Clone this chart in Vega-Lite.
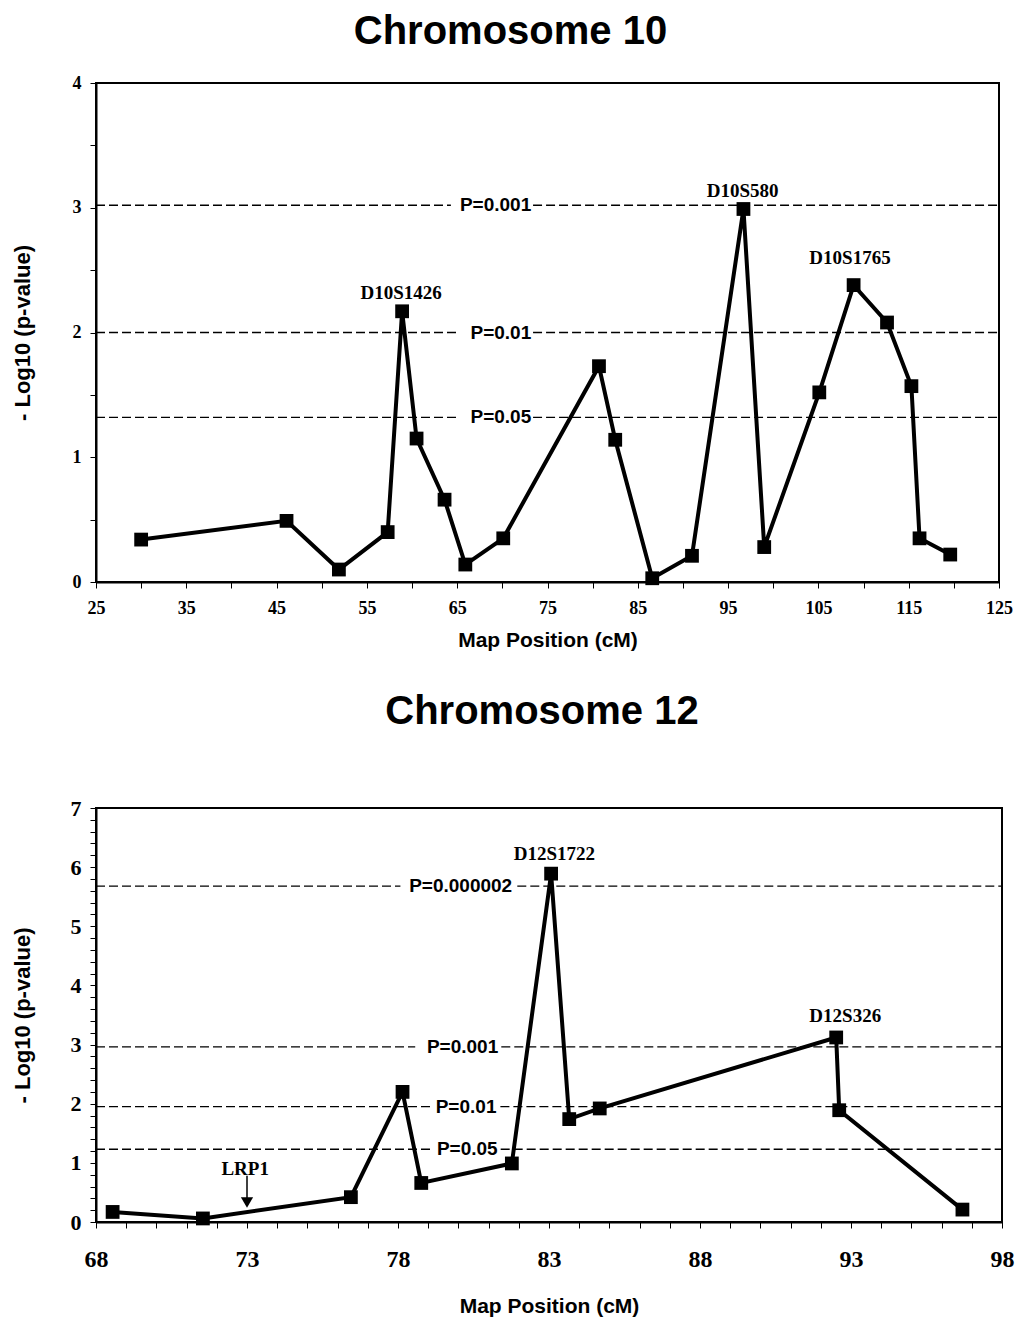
{
  "$schema": "https://vega.github.io/schema/vega-lite/v6.json",
  "padding": {"left": 10, "top": 11, "right": 0, "bottom": 0},
  "spacing": 40,
  "background": "white",
  "config": {
    "view": {"stroke": "black", "strokeWidth": 2},
    "axis": {
      "grid": false, "domainColor": "black", "domainWidth": 2,
      "tickColor": "black", "tickWidth": 1, "tickSize": 6,
      "labelColor": "black", "labelFont": "Liberation Serif", "labelFontWeight": "bold",
      "titleColor": "black", "titleFont": "Liberation Sans", "titleFontWeight": "bold",
      "labelFlush": false, "labelOverlap": false
    }
  },
  "datasets": {
    "chr10": [
      {"x": 30.0, "y": 0.34}, {"x": 46.1, "y": 0.49}, {"x": 51.9, "y": 0.10},
      {"x": 57.3, "y": 0.40}, {"x": 58.9, "y": 2.17}, {"x": 60.5, "y": 1.15},
      {"x": 63.6, "y": 0.66}, {"x": 65.9, "y": 0.14}, {"x": 70.1, "y": 0.35},
      {"x": 80.7, "y": 1.73}, {"x": 82.5, "y": 1.14}, {"x": 86.6, "y": 0.03},
      {"x": 91.0, "y": 0.21}, {"x": 96.7, "y": 2.99}, {"x": 99.0, "y": 0.28},
      {"x": 105.1, "y": 1.52}, {"x": 108.9, "y": 2.38}, {"x": 112.6, "y": 2.08},
      {"x": 115.3, "y": 1.57}, {"x": 116.2, "y": 0.35}, {"x": 119.6, "y": 0.22}
    ],
    "chr10_rules": [
      {"x": 25, "x2": 64.3, "y": 3.02}, {"x": 73.4, "x2": 125, "y": 3.02},
      {"x": 25, "x2": 65.1, "y": 2.0}, {"x": 73.4, "x2": 125, "y": 2.0},
      {"x": 25, "x2": 65.1, "y": 1.32}, {"x": 73.4, "x2": 125, "y": 1.32}
    ],
    "chr10_plabels": [
      {"label": "P=0.001", "x": 73.2, "y": 3.02},
      {"label": "P=0.01", "x": 73.2, "y": 2.0},
      {"label": "P=0.05", "x": 73.2, "y": 1.32}
    ],
    "chr10_markers": [
      {"label": "D10S1426", "x": 58.8, "y": 2.27},
      {"label": "D10S580", "x": 96.6, "y": 3.09},
      {"label": "D10S1765", "x": 108.5, "y": 2.55}
    ],
    "chr12": [
      {"x": 68.55, "y": 0.17}, {"x": 71.54, "y": 0.06}, {"x": 76.44, "y": 0.42},
      {"x": 78.15, "y": 2.20}, {"x": 78.77, "y": 0.66}, {"x": 81.77, "y": 0.99},
      {"x": 83.07, "y": 5.89}, {"x": 83.67, "y": 1.74}, {"x": 84.68, "y": 1.92},
      {"x": 92.51, "y": 3.12}, {"x": 92.61, "y": 1.89}, {"x": 96.69, "y": 0.21}
    ],
    "chr12_rules": [
      {"x": 68, "x2": 78.08, "y": 5.68}, {"x": 81.95, "x2": 98, "y": 5.68},
      {"x": 68, "x2": 78.57, "y": 2.96}, {"x": 81.42, "x2": 98, "y": 2.96},
      {"x": 68, "x2": 79.07, "y": 1.95}, {"x": 81.39, "x2": 98, "y": 1.95},
      {"x": 68, "x2": 79.07, "y": 1.23}, {"x": 81.4, "x2": 98, "y": 1.23}
    ],
    "chr12_plabels": [
      {"label": "P=0.000002", "x": 81.78, "y": 5.68},
      {"label": "P=0.001", "x": 81.32, "y": 2.96},
      {"label": "P=0.01", "x": 81.26, "y": 1.95},
      {"label": "P=0.05", "x": 81.3, "y": 1.23}
    ],
    "chr12_markers": [
      {"label": "D12S1722", "x": 83.18, "y": 6.12},
      {"label": "D12S326", "x": 92.81, "y": 3.39},
      {"label": "LRP1", "x": 72.94, "y": 0.80}
    ],
    "chr12_arrow": [
      {"x": 73.0, "y": 0.78, "y2": 0.38}
    ],
    "chr12_arrowhead": [
      {"x": 73.0, "y": 0.33}
    ]
  },
  "vconcat": [
    {
      "width": 903,
      "height": 499,
      "title": {"text": "Chromosome 10", "font": "Liberation Sans", "fontSize": 40, "fontWeight": "bold", "color": "black", "frame": "group", "anchor": "middle", "dx": -37, "offset": 22},
      "resolve": {"axis": {"x": "independent", "y": "independent"}},
      "layer": [
        {
          "data": {"name": "chr10_rules"},
          "mark": {"type": "rule", "color": "black", "strokeWidth": 1.3, "strokeDash": [9, 4]},
          "encoding": {
            "x": {"field": "x", "type": "quantitative",
              "scale": {"domain": [25, 125], "nice": false, "zero": false},
              "axis": {
                "orient": "bottom",
                "title": "Map Position (cM)", "titleFontSize": 21, "titlePadding": 12,
                "values": [25,35,45,55,65,75,85,95,105,115,125],
                "labelFontSize": 18, "labelPadding": 11, "labelOverlap": false, "labelFlush": false
              }},
            "x2": {"field": "x2"},
            "y": {"field": "y", "type": "quantitative",
              "scale": {"domain": [0, 4], "nice": false},
              "axis": {
                "orient": "left",
                "title": "- Log10 (p-value)", "titleFontSize": 22, "titlePadding": 38,
                "values": [0,1,2,3,4], "format": "d",
                "labelFontSize": 18, "labelPadding": 9, "labelOverlap": false, "labelFlush": false
              }}
          }
        },
        {
          "data": {"name": "chr10"},
          "mark": {"type": "line", "color": "black", "strokeWidth": 4},
          "encoding": {
            "x": {"field": "x", "type": "quantitative",
              "axis": {"orient": "bottom", "offset": 0, "title": null, "labels": false, "domain": false, "values": [30,40,50,60,70,80,90,100,110,120]}},
            "y": {"field": "y", "type": "quantitative",
              "axis": {"orient": "left", "offset": 0, "title": null, "labels": false, "domain": false, "values": [0.5,1.5,2.5,3.5]}}
          }
        },
        {
          "data": {"name": "chr10"},
          "mark": {"type": "point", "shape": "square", "filled": true, "color": "black", "size": 190, "opacity": 1},
          "encoding": {
            "x": {"field": "x", "type": "quantitative", "axis": null},
            "y": {"field": "y", "type": "quantitative", "axis": null}
          }
        },
        {
          "data": {"name": "chr10_plabels"},
          "mark": {"type": "text", "align": "right", "baseline": "middle", "font": "Liberation Sans", "fontWeight": "bold", "fontSize": 19, "color": "black"},
          "encoding": {
            "x": {"field": "x", "type": "quantitative", "axis": null},
            "y": {"field": "y", "type": "quantitative", "axis": null},
            "text": {"field": "label"}
          }
        },
        {
          "data": {"name": "chr10_markers"},
          "mark": {"type": "text", "align": "center", "baseline": "alphabetic", "font": "Liberation Serif", "fontWeight": "bold", "fontSize": 19, "color": "black"},
          "encoding": {
            "x": {"field": "x", "type": "quantitative", "axis": null},
            "y": {"field": "y", "type": "quantitative", "axis": null},
            "text": {"field": "label"}
          }
        }
      ]
    },
    {
      "width": 906,
      "height": 414,
      "title": {"text": "Chromosome 12", "font": "Liberation Sans", "fontSize": 40, "fontWeight": "bold", "color": "black", "frame": "group", "anchor": "middle", "dx": -7, "offset": 65},
      "resolve": {"axis": {"x": "independent", "y": "independent"}},
      "layer": [
        {
          "data": {"name": "chr12_rules"},
          "mark": {"type": "rule", "color": "black", "strokeWidth": 1.3, "strokeDash": [9, 4]},
          "encoding": {
            "x": {"field": "x", "type": "quantitative",
              "scale": {"domain": [68, 98], "nice": false, "zero": false},
              "axis": {
                "orient": "bottom",
                "title": "Map Position (cM)", "titleFontSize": 21, "titlePadding": 24,
                "values": [68,73,78,83,88,93,98],
                "labelFontSize": 24, "labelPadding": 19, "labelOverlap": false, "labelFlush": false
              }},
            "x2": {"field": "x2"},
            "y": {"field": "y", "type": "quantitative",
              "scale": {"domain": [0, 7], "nice": false},
              "axis": {
                "orient": "left",
                "title": "- Log10 (p-value)", "titleFontSize": 22, "titlePadding": 36,
                "values": [0,1,2,3,4,5,6,7], "format": "d",
                "labelFontSize": 22, "labelPadding": 9, "labelOverlap": false, "labelFlush": false
              }}
          }
        },
        {
          "data": {"name": "chr12"},
          "mark": {"type": "line", "color": "black", "strokeWidth": 4},
          "encoding": {
            "x": {"field": "x", "type": "quantitative",
              "axis": {"orient": "bottom", "offset": 0, "title": null, "labels": false, "domain": false,
                "values": [69,70,71,72,74,75,76,77,79,80,81,82,84,85,86,87,89,90,91,92,94,95,96,97]}},
            "y": {"field": "y", "type": "quantitative",
              "axis": {"orient": "left", "offset": 0, "title": null, "labels": false, "domain": false,
                "values": [0.2,0.4,0.6,0.8,1.2,1.4,1.6,1.8,2.2,2.4,2.6,2.8,3.2,3.4,3.6,3.8,4.2,4.4,4.6,4.8,5.2,5.4,5.6,5.8,6.2,6.4,6.6,6.8]}}
          }
        },
        {
          "data": {"name": "chr12"},
          "mark": {"type": "point", "shape": "square", "filled": true, "color": "black", "size": 190, "opacity": 1},
          "encoding": {
            "x": {"field": "x", "type": "quantitative", "axis": null},
            "y": {"field": "y", "type": "quantitative", "axis": null}
          }
        },
        {
          "data": {"name": "chr12_plabels"},
          "mark": {"type": "text", "align": "right", "baseline": "middle", "font": "Liberation Sans", "fontWeight": "bold", "fontSize": 19, "color": "black"},
          "encoding": {
            "x": {"field": "x", "type": "quantitative", "axis": null},
            "y": {"field": "y", "type": "quantitative", "axis": null},
            "text": {"field": "label"}
          }
        },
        {
          "data": {"name": "chr12_arrow"},
          "mark": {"type": "rule", "color": "black", "strokeWidth": 1.5},
          "encoding": {
            "x": {"field": "x", "type": "quantitative", "axis": null},
            "y": {"field": "y", "type": "quantitative", "axis": null},
            "y2": {"field": "y2"}
          }
        },
        {
          "data": {"name": "chr12_arrowhead"},
          "mark": {"type": "point", "shape": "triangle-down", "filled": true, "color": "black", "size": 150, "opacity": 1},
          "encoding": {
            "x": {"field": "x", "type": "quantitative", "axis": null},
            "y": {"field": "y", "type": "quantitative", "axis": null}
          }
        },
        {
          "data": {"name": "chr12_markers"},
          "mark": {"type": "text", "align": "center", "baseline": "alphabetic", "font": "Liberation Serif", "fontWeight": "bold", "fontSize": 19, "color": "black"},
          "encoding": {
            "x": {"field": "x", "type": "quantitative", "axis": null},
            "y": {"field": "y", "type": "quantitative", "axis": null},
            "text": {"field": "label"}
          }
        }
      ]
    }
  ]
}
